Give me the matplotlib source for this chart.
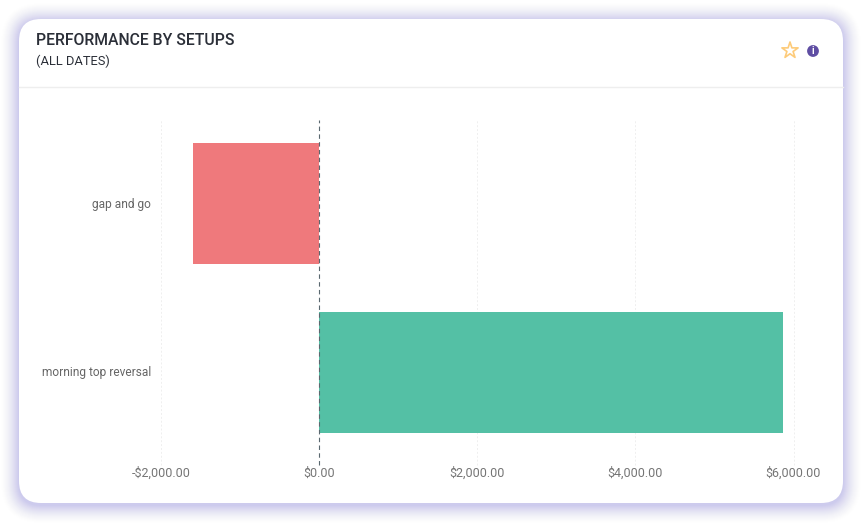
import matplotlib
matplotlib.use("Agg")  # headless / no display needed
import matplotlib.pyplot as plt
from matplotlib.patches import FancyBboxPatch, Circle
from matplotlib.ticker import FuncFormatter
from matplotlib.transforms import ScaledTranslation

setups = ["gap and go", "morning top reversal"]
profit = [-1600, 5861]
bar_colors = ["#ef797c", "#54c0a5"]
x_ticks = [-2000, 0, 2000, 4000, 6000]

W, H = 864, 524
plt.rcParams["font.family"] = ["Roboto", "DejaVu Sans"]


def money(v, _pos=None):
    sign = "-" if v < 0 else ""
    return f"{sign}${abs(v):,.2f}"


fig = plt.figure(figsize=(W / 100, H / 100), dpi=100, facecolor="white")

# background layer in pixel coordinates: shadow, card, header
bg = fig.add_axes([0, 0, 1, 1])
bg.set_xlim(0, W)
bg.set_ylim(H, 0)
bg.axis("off")

# soft shadow: outer rings are the faintest
for grow in range(19, 0, -1):
    bg.add_patch(FancyBboxPatch(
        (19 - grow, 19 - grow + 2), 824 + 2 * grow, 484 + 2 * grow,
        boxstyle=f"round,pad=0,rounding_size={22 + grow}",
        fc="#6a63d8", ec="none", alpha=0.0017 * (20 - grow)))
bg.add_patch(FancyBboxPatch((19, 19), 824, 484,
                            boxstyle="round,pad=0,rounding_size=22",
                            fc="white", ec="none"))
bg.plot([19, 843], [87, 87], color="#eeeeee", lw=1)

bg.text(35.5, 40.3, "PERFORMANCE BY SETUPS", fontsize=11.3, color="#2b2f38",
        va="center", ha="left", fontweight="medium")
bg.text(35.5, 61, "(ALL DATES)", fontsize=9.3, color="#2b2f38",
        va="center", ha="left")

# star and info icons
bg.scatter([790], [50.5], marker="*", s=150, facecolor="none",
           edgecolor="#fdcb7a", linewidth=1.2)
bg.add_patch(Circle((813, 51), 5.9, fc="#5f4ea3", ec="none"))
bg.text(813, 51.2, "i", color="white", fontsize=7, fontweight="bold",
        ha="center", va="center")

# chart axes, pixel box set to match the reference
left, right, top, bottom = 161, 793.5, 119.5, 465.25
ax = fig.add_axes([left / W, 1 - bottom / H, (right - left) / W, (bottom - top) / H])
ax.patch.set_alpha(0)

positions = range(len(setups))
ax.barh(positions, profit, height=0.72, color=bar_colors, zorder=2)

ax.set_xlim(x_ticks[0], x_ticks[-1])
ax.set_ylim(1.552, -0.5)
ax.set_xticks(x_ticks)
ax.xaxis.set_major_formatter(FuncFormatter(money))
ax.set_yticks(list(positions))
ax.set_yticklabels(setups)
ax.tick_params(axis="x", length=0, pad=1.2, labelsize=9.0, labelcolor="#757575")
ax.tick_params(axis="y", length=0, pad=7.3, labelsize=8.6, labelcolor="#666666")
for lab in ax.get_yticklabels():
    lab.set_transform(lab.get_transform() + ScaledTranslation(0, 1 / 100, fig.dpi_scale_trans))
for spine in ax.spines.values():
    spine.set_visible(False)

for tick in x_ticks:
    if tick == 0:
        ax.axvline(tick, color="#5a686f", lw=0.8, ls=(0, (4, 3)), zorder=3, clip_on=False)
    else:
        ax.axvline(tick, color="#efefef", lw=0.7, ls=(0, (2, 2)), zorder=1, clip_on=False)

fig.savefig("out.png", dpi=100)
